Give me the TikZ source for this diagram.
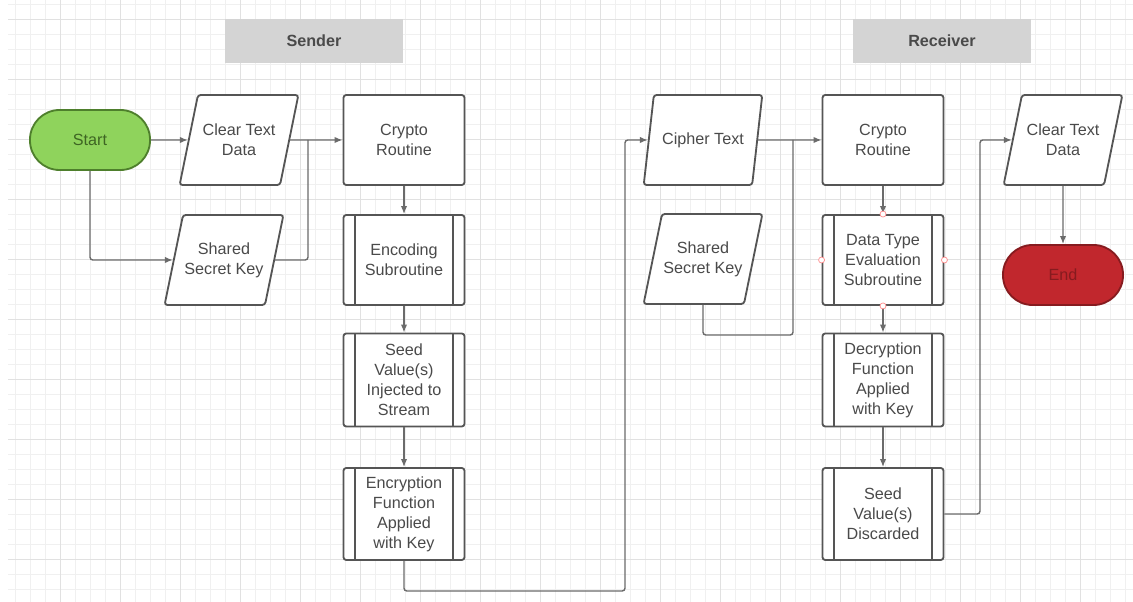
\documentclass[tikz,border=0pt]{standalone}
\usepackage{fontspec}
\setmainfont{Liberation Sans}
\usetikzlibrary{arrows.meta, shapes.geometric}
\usepackage{xcolor}
\definecolor{boxline}{HTML}{555555}
\definecolor{wireclr}{HTML}{6B6B6B}
\definecolor{ink}{HTML}{4A4A4A}
\definecolor{hdrgray}{HTML}{D4D4D4}
\definecolor{gridminor}{HTML}{F0F0F0}
\definecolor{gridmajor}{HTML}{E1E1E1}
\definecolor{startfill}{HTML}{8FD35C}
\definecolor{startline}{HTML}{4E7F2C}
\definecolor{stopfill}{HTML}{C1272D}
\definecolor{stopline}{HTML}{861B1F}

\begin{document}
\begin{tikzpicture}[
  x=0.025cm, y=-0.025cm,
  txt/.style={font=\fontsize{11.5}{14.2}\selectfont, text=ink, align=center},
  box/.style={txt, draw=boxline, line width=1.3pt, rounded corners=2pt, fill=white,
    minimum width=3.025cm, minimum height=2.25cm, inner sep=1pt},
  sub/.style={box, path picture={
    \draw[boxline, line width=1.3pt]
      ([xshift=0.28cm]path picture bounding box.north west) -- ([xshift=0.28cm]path picture bounding box.south west)
      ([xshift=-0.28cm]path picture bounding box.north east) -- ([xshift=-0.28cm]path picture bounding box.south east);}},
  io/.style={txt, trapezium, trapezium left angle=64, trapezium right angle=116,
    trapezium stretches=true, draw=boxline, line width=1.3pt, rounded corners=2pt, fill=white,
    minimum width=2.98cm, minimum height=2.25cm, inner sep=1pt},
  term/.style={txt, line width=1.3pt, rounded corners=0.74cm, minimum width=3cm, minimum height=1.5cm},
  hdr/.style={font=\bfseries\fontsize{11.5}{14}\selectfont, text=ink, fill=hdrgray,
    minimum width=4.45cm, minimum height=1.075cm},
  flow/.style={-{Latex[length=2mm, width=1.6mm]}, draw=wireclr, line width=1pt, rounded corners=2pt},
  link/.style={draw=wireclr, line width=1pt, rounded corners=2pt},
  port/.style={circle, draw=red!45, fill=white, inner sep=0pt, minimum size=0.15cm, line width=0.5pt}
]
\useasboundingbox (0,0) rectangle (1133,602);
\fill[white] (0,0) rectangle (1133,602);

% background grid
\begin{scope}[yshift=-0.475cm]
  \draw[gridminor, line width=0.5pt, step=0.375cm] (8,-19) grid (1133,583);
  \draw[gridmajor, line width=0.7pt, step=1.5cm] (8,-19) grid (1133,583);
\end{scope}

% lane headers
\node[hdr] (sndr) at (314,41) {Sender};
\node[hdr] (rcvr) at (942,41) {Receiver};

% sender side
\node[term, fill=startfill, draw=startline, text=startline!80!black] (start) at (90,140) {Start};
\node[io] (clrA) at (239,140) {Clear Text\\Data};
\node[io] (keyA) at (224,260) {Shared\\Secret Key};
\node[box] (cryA) at (404,140) {Crypto\\Routine};
\node[sub] (encA) at (404,260) {Encoding\\Subroutine};
\node[sub, minimum height=2.325cm] (seedA) at (404,380) {Seed\\Value(s)\\Injected to\\Stream};
\node[sub, minimum height=2.3cm] (encrA) at (404,514) {Encryption\\Function\\Applied\\with Key};

% receiver side
\node[io] (ciph) at (703,140) {Cipher Text};
\node[io] (keyB) at (703,259) {Shared\\Secret Key};
\node[box] (cryB) at (883,140) {Crypto\\Routine};
\node[sub] (typeB) at (883,260) {Data Type\\Evaluation\\Subroutine};
\node[sub, minimum height=2.325cm] (decB) at (883,380) {Decryption\\Function\\Applied\\with Key};
\node[sub, minimum height=2.3cm] (seedB) at (883,514) {Seed\\Value(s)\\Discarded};
\node[io] (clrB) at (1063,140) {Clear Text\\Data};
\node[term, fill=stopfill, draw=stopline, text=stopline] (stop) at (1063,275) {End};

\coordinate (mergeA) at (308,140);
\coordinate (mergeB) at (793,140);
\coordinate (keyBlow) at (793,335);
\coordinate (loopA) at (404,591);
\coordinate (loopB) at (625,591);
\coordinate (riseB) at (980,140);

% connectors
\draw[flow] (start) -- (clrA);
\draw[flow] (start.south) |- (keyA.west);
\draw[flow] (clrA) -- (cryA);
\draw[link] (keyA.east) -| (mergeA);
\draw[flow] (cryA) -- (encA);
\draw[flow] (encA) -- (seedA);
\draw[flow] (seedA) -- (encrA);
\draw[flow] (encrA.south) -- (loopA) -- (loopB) |- (ciph.west);
\draw[flow] (ciph) -- (cryB);
\draw[link] (keyB.south) |- (keyBlow) -- (mergeB);
\draw[flow] (cryB) -- (typeB);
\draw[flow] (typeB) -- (decB);
\draw[flow] (decB) -- (seedB);
\draw[flow] (seedB.east) -| (riseB) -- (clrB);
\draw[flow] (clrB) -- (stop);

\node[port] (pN) at (typeB.north) {};
\node[port] (pS) at (typeB.south) {};
\node[port] (pE) at (typeB.east) {};
\node[port] (pW) at (typeB.west) {};
\end{tikzpicture}
\end{document}
